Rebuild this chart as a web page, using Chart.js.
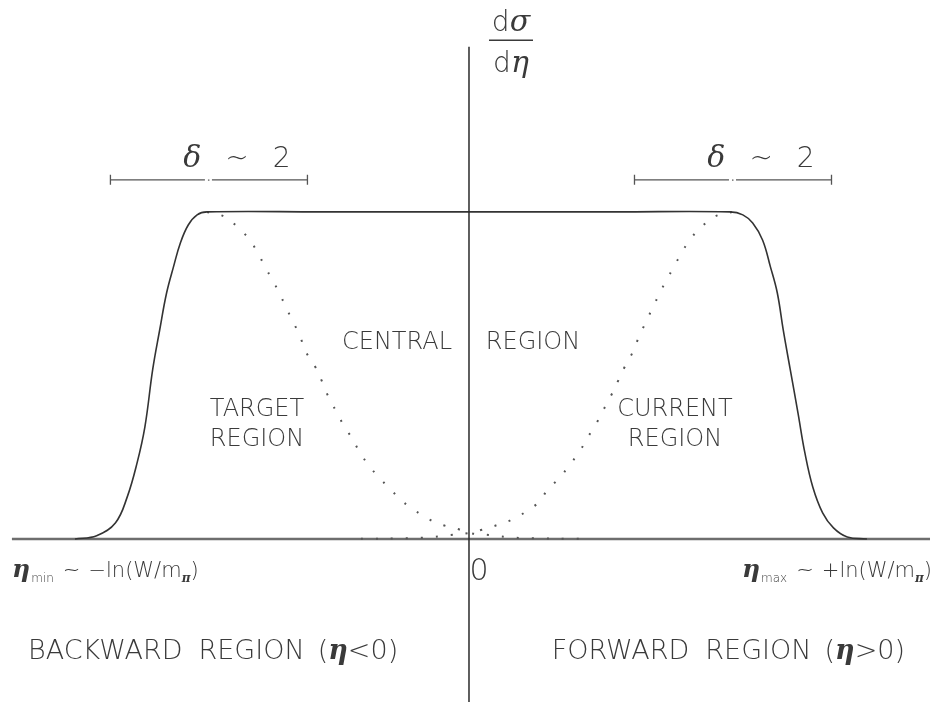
<!DOCTYPE html>
<html>
<head>
<meta charset="utf-8">
<script src="https://cdn.jsdelivr.net/npm/chart.js@4"></script>
<style>
  html, body { margin: 0; padding: 0; background: #fff; }
  #wrap { width: 937px; height: 702px; position: relative; }
</style>
</head>
<body>
<div id="wrap"><canvas id="myChart"></canvas></div>
<script>
// rapidity distribution dsigma/deta, plateau with fragmentation edges
var etaSolid = [-4.0, -3.78, -3.59, -3.47, -3.37, -3.29, -3.21, -3.14, -3.07, -3.0, -2.93, -2.85, -2.76, -2.66,
                -1.5, 0, 1.5,
                 2.65, 2.78, 2.88, 2.98, 3.06, 3.13, 3.19, 3.26, 3.34, 3.41, 3.49, 3.59, 3.70, 3.84, 4.04];
var dsdSolid = [0, 0.010, 0.049, 0.128, 0.232, 0.343, 0.52, 0.639, 0.752, 0.832, 0.905, 0.96, 0.991, 1.0,
                1.0, 1.0, 1.0,
                1.0, 0.991, 0.966, 0.914, 0.832, 0.752, 0.639, 0.52, 0.385, 0.263, 0.159, 0.08, 0.034, 0.006, 0];

// target fragmentation (dotted, left)
var etaTarget = [-2.66, -2.48, -2.35, -2.24, -2.15, -2.07, -1.99, -1.92, -1.85, -1.78, -1.71, -1.65, -1.56, -1.49, -1.43,
                 -1.35, -1.28, -1.19, -1.11, -1.02, -0.91, -0.80, -0.68, -0.57, -0.43, -0.27, -0.12, 0.01, 0.21, 0.38, 0.54, 1.2];
var dsdTarget = [1.0, 0.985, 0.954, 0.920, 0.878, 0.832, 0.789, 0.749, 0.703, 0.661, 0.615, 0.569, 0.526, 0.480, 0.437,
                 0.391, 0.352, 0.309, 0.266, 0.226, 0.187, 0.153, 0.116, 0.092, 0.064, 0.043, 0.031, 0.018, 0.012, 0.006, 0.003, 0];

// current fragmentation (dotted, right)
var etaCurrent = [2.67, 2.49, 2.36, 2.25, 2.16, 2.08, 2.0, 1.93, 1.86, 1.79, 1.72, 1.66, 1.58, 1.51, 1.44,
                  1.36, 1.29, 1.20, 1.12, 1.02, 0.92, 0.80, 0.71, 0.59, 0.45, 0.29, 0.13, -0.01, -0.19, -0.37, -0.54, -1.16];
var dsdCurrent = [1.0, 0.985, 0.954, 0.918, 0.876, 0.832, 0.789, 0.748, 0.704, 0.660, 0.614, 0.570, 0.526, 0.481, 0.437,
                  0.392, 0.352, 0.308, 0.266, 0.226, 0.187, 0.151, 0.113, 0.086, 0.061, 0.043, 0.028, 0.018, 0.012, 0.006, 0.003, 0];

// axes extent
var xAxisEta = [-4.64, 4.68];
var yAxisVal = [-0.5, 1.505];

// delta ~ 2 brackets: centre and half width in eta, drawn at this height
var deltaCentre = [-2.64, 2.68];
var deltaHalf = 1.0;
var deltaLevel = 1.098;

function pts(xs, ys) {
    var out = [];
    for (var i = 0; i < xs.length; i++) out.push({x: xs[i], y: ys[i]});
    return out;
}

var SANS = '"DejaVu Sans", sans-serif';
var GREEK = '"DejaVu Serif", serif';
var TXT = '#3a3a3a';

// draws a row of text runs starting at x (left) on baseline y
function runs(ctx, parts, x, y, align) {
    var w = 0;
    parts.forEach(function (p) { ctx.font = p.f; w += ctx.measureText(p.t).width + (p.gap || 0); });
    var cx = align === 'center' ? x - w / 2 : (align === 'right' ? x - w : x);
    parts.forEach(function (p) {
        ctx.font = p.f;
        ctx.fillText(p.t, cx, y + (p.dy || 0));
        cx += ctx.measureText(p.t).width + (p.gap || 0);
    });
}

var labelsPlugin = {
    id: 'labels',
    afterDatasetsDraw: function (chart) {
        var ctx = chart.ctx, xs = chart.scales.x, ys = chart.scales.y;
        var X = function (v) { return xs.getPixelForValue(v); };
        var Y = function (v) { return ys.getPixelForValue(v); };
        ctx.save();
        ctx.textAlign = 'left';
        ctx.textBaseline = 'alphabetic';

        // brackets
        ctx.strokeStyle = '#555';
        ctx.lineWidth = 1.3;
        deltaCentre.forEach(function (c) {
            var a = X(c - deltaHalf), b = X(c + deltaHalf), m = X(c), y = Y(deltaLevel);
            ctx.beginPath();
            ctx.moveTo(a, y); ctx.lineTo(m - 4, y);
            ctx.moveTo(m + 3, y); ctx.lineTo(b, y);
            ctx.moveTo(a, y - 5); ctx.lineTo(a, y + 5);
            ctx.moveTo(b, y - 5); ctx.lineTo(b, y + 5);
            ctx.stroke();
            ctx.fillStyle = '#777';
            ctx.fillRect(m - 1, y - 0.5, 1.5, 1.5);
            ctx.fillStyle = TXT;
            runs(ctx, [
                {t: 'δ', f: 'italic 30px ' + GREEK, gap: 24},
                {t: '~', f: '200 28px ' + SANS, gap: 24},
                {t: '2', f: '200 28px ' + SANS}
            ], m + 28, y - 13, 'center');
        });

        ctx.fillStyle = TXT;

        // dsigma / deta
        var fx = X(0) + 20;
        runs(ctx, [{t: 'd', f: '200 28px ' + SANS}, {t: 'σ', f: 'italic 30px ' + GREEK}], fx + 22, 31, 'center');
        ctx.fillRect(fx, 39.5, 44, 1.5);
        runs(ctx, [{t: 'd', f: '200 28px ' + SANS}, {t: 'η', f: 'italic 30px ' + GREEK}], fx + 22, 72, 'center');

        // region names
        ctx.font = '200 24px ' + SANS;
        ctx.textAlign = 'center';
        ctx.fillText('CENTRAL', 397, 349);
        ctx.fillText('REGION', 533, 349);
        ctx.fillText('TARGET', 257, 416);
        ctx.fillText('REGION', 257, 446);
        ctx.fillText('CURRENT', 675, 416);
        ctx.fillText('REGION', 675, 446);
        ctx.textAlign = 'left';

        // limits
        var g = 'italic bold 25px ' + GREEK, s = '200 12px ' + SANS, m = '200 21px ' + SANS;
        var pi = 'italic bold 12px ' + GREEK;
        runs(ctx, [
            {t: 'η', f: g, gap: 1}, {t: 'min', f: s, dy: 5, gap: 9},
            {t: '~', f: m, gap: 8}, {t: '−ln(W/m', f: m}, {t: 'π', f: pi, dy: 5}, {t: ')', f: m}
        ], 12, 577, 'left');
        runs(ctx, [
            {t: 'η', f: g, gap: 1}, {t: 'max', f: s, dy: 5, gap: 9},
            {t: '~', f: m, gap: 8}, {t: '+ln(W/m', f: m}, {t: 'π', f: pi, dy: 5}, {t: ')', f: m}
        ], 932, 577, 'right');

        ctx.font = '200 30px ' + SANS;
        ctx.textAlign = 'center';
        ctx.fillText('0', X(0) + 10, 580);
        ctx.textAlign = 'left';

        var b = '200 27px ' + SANS, e = 'italic bold 27px ' + GREEK;
        runs(ctx, [{t: 'BACKWARD', f: b, gap: 16}, {t: 'REGION', f: b, gap: 13}, {t: '(', f: b}, {t: 'η', f: e}, {t: '<0)', f: b}], 28, 659, 'left');
        runs(ctx, [{t: 'FORWARD', f: b, gap: 16}, {t: 'REGION', f: b, gap: 13}, {t: '(', f: b}, {t: 'η', f: e}, {t: '>0)', f: b}], 905, 659, 'right');

        ctx.restore();
    }
};

new Chart(document.getElementById('myChart'), {
    type: 'scatter',
    data: {
        datasets: [
            {
                data: pts(etaSolid, dsdSolid),
                showLine: true,
                borderColor: '#333',
                borderWidth: 1.6,
                pointRadius: 0,
                tension: 0.4,
                order: 1
            },
            {
                data: pts(etaTarget, dsdTarget),
                showLine: true,
                borderColor: '#555',
                borderWidth: 2,
                borderDash: [2, 13],
                pointRadius: 0,
                tension: 0.4,
                order: 2
            },
            {
                data: pts(etaCurrent, dsdCurrent),
                showLine: true,
                borderColor: '#555',
                borderWidth: 2,
                borderDash: [2, 13],
                pointRadius: 0,
                tension: 0.4,
                order: 2
            },
            {
                data: [{x: xAxisEta[0], y: 0}, {x: xAxisEta[1], y: 0}],
                showLine: true,
                borderColor: '#6e6e6e',
                borderWidth: 2.5,
                pointRadius: 0,
                order: 3
            },
            {
                data: [{x: 0, y: yAxisVal[0]}, {x: 0, y: yAxisVal[1]}],
                showLine: true,
                borderColor: '#2a2a2a',
                borderWidth: 1.5,
                pointRadius: 0,
                order: 0
            }
        ]
    },
    options: {
        responsive: true,
        maintainAspectRatio: false,
        animation: false,
        layout: {padding: 0},
        plugins: {legend: {display: false}, tooltip: {enabled: false}},
        scales: {
            x: {type: 'linear', min: -4.761, max: 4.751, display: false},
            y: {type: 'linear', min: -0.4985, max: 1.648, display: false}
        }
    },
    plugins: [labelsPlugin]
});
</script>
</body>
</html>
